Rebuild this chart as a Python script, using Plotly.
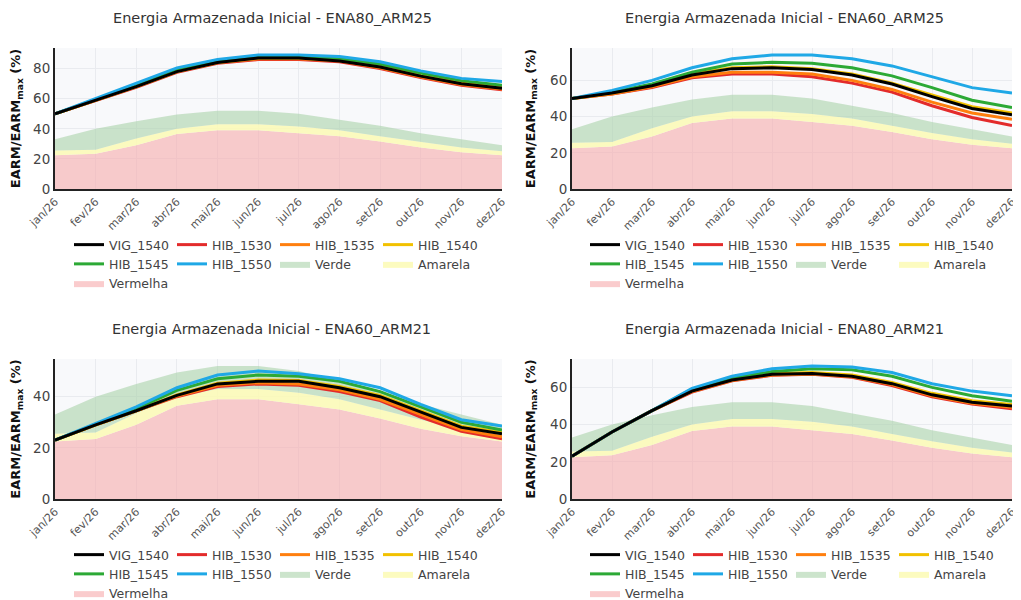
import plotly.graph_objects as go

meses = ["jan/26", "fev/26", "mar/26", "abr/26", "mai/26", "jun/26",
         "jul/26", "ago/26", "set/26", "out/26", "nov/26", "dez/26"]

titulos = ["Energia Armazenada Inicial - ENA80_ARM25",
           "Energia Armazenada Inicial - ENA60_ARM25",
           "Energia Armazenada Inicial - ENA60_ARM21",
           "Energia Armazenada Inicial - ENA80_ARM21"]

# Faixas (iguais nos quatro painéis)
vermelha = [22.5, 23.5, 29, 36.5, 39, 39, 37, 35, 31.5, 27.5, 24.5, 22.5]
amarela = [25.5, 26, 33.5, 40, 43, 43, 41.5, 39, 35, 31, 27.5, 25]
verde = [33, 40, 45, 49.5, 52, 52, 50, 46, 42, 37, 33, 29]

# ENA80_ARM25
p1_vig1540 = [50, 59, 68, 78, 84, 87, 87, 85, 81, 75, 70, 67]
p1_hib1530 = [50, 58.5, 67.5, 77.5, 83.5, 86, 86, 84.5, 80, 74, 69, 66]
p1_hib1535 = [50, 59, 68, 78, 84, 86.5, 86.5, 85, 80.5, 74.5, 69.5, 66.5]
p1_hib1540 = [50, 59, 68, 78, 84, 87, 87, 85.5, 81.5, 75.5, 70.5, 67.5]
p1_hib1545 = [50, 59.5, 69, 79.5, 85.5, 88, 88, 86.5, 83, 77, 72, 69]
p1_hib1550 = [50, 60, 70, 80.5, 86, 89, 89, 88, 84.5, 78.5, 73.5, 71.5]

# ENA60_ARM25
p2_vig1540 = [50, 53, 57, 63, 66.5, 67, 66, 63, 58, 51, 44.5, 41]
p2_hib1530 = [50, 52.5, 56, 61.5, 63.5, 63.5, 62, 58.5, 53.5, 46, 39.5, 35]
p2_hib1535 = [50, 52.5, 56.5, 62, 64.5, 64.5, 63.5, 60, 55, 48, 42, 38.5]
p2_hib1540 = [50, 53, 57.5, 63.5, 67, 67.5, 66.5, 63.5, 58.5, 52, 45.5, 42]
p2_hib1545 = [50, 53.5, 58, 64.5, 69, 70, 69.5, 67, 62.5, 56, 49, 45]
p2_hib1550 = [50, 54.5, 60, 67, 72, 74, 74, 72, 68, 62, 56, 53]

# ENA60_ARM21
p3_vig1540 = [23, 29, 34.5, 40.5, 45, 46, 46, 43.5, 40, 34, 28, 25.5]
p3_hib1530 = [23, 29, 34.5, 40, 44, 45, 44.5, 42, 38.5, 32, 26.5, 23.5]
p3_hib1535 = [23, 29, 34.5, 40.3, 44.5, 45.5, 45, 42.7, 39, 33, 27.2, 24.3]
p3_hib1540 = [23, 29, 34.5, 40.7, 45.3, 46.5, 46.3, 44, 40.5, 34.5, 28.5, 26]
p3_hib1545 = [23, 29.3, 35.3, 42.5, 47, 48.5, 48, 46, 42, 36, 30, 27]
p3_hib1550 = [23, 29.5, 36, 43.5, 48.5, 50, 49, 47, 43.5, 37, 31, 28.5]

# ENA80_ARM21
p4_vig1540 = [23, 36, 47.5, 58, 64, 67, 67.5, 66, 62, 56, 52, 50]
p4_hib1530 = [23, 36, 47.5, 57.5, 63.5, 66.5, 67, 65.5, 61, 55, 51, 48.5]
p4_hib1535 = [23, 36, 47.5, 57.8, 63.7, 66.7, 67.2, 65.7, 61.5, 55.5, 51.5, 49.3]
p4_hib1540 = [23, 36, 47.5, 58.3, 64.3, 67.5, 68, 66.7, 62.7, 56.8, 52.8, 50.8]
p4_hib1545 = [23, 36, 47.5, 59, 65, 68.5, 70, 69.5, 66, 60, 55.5, 52.5]
p4_hib1550 = [23, 36, 47.5, 59.5, 66, 70, 71.5, 71, 68, 62, 58, 55.5]

paineis = [
    [p1_vig1540, p1_hib1530, p1_hib1535, p1_hib1540, p1_hib1545, p1_hib1550],
    [p2_vig1540, p2_hib1530, p2_hib1535, p2_hib1540, p2_hib1545, p2_hib1550],
    [p3_vig1540, p3_hib1530, p3_hib1535, p3_hib1540, p3_hib1545, p3_hib1550],
    [p4_vig1540, p4_hib1530, p4_hib1535, p4_hib1540, p4_hib1545, p4_hib1550],
]
nomes = ["VIG_1540", "HIB_1530", "HIB_1535", "HIB_1540", "HIB_1545", "HIB_1550"]
cores = ["#000000", "#e32b2b", "#ff7f0e", "#f2c100", "#2ca935", "#1fa8e6"]

faixas = [("Vermelha", vermelha, "tozeroy", "rgba(246,170,172,0.6)", 8),
          ("Amarela", amarela, "tonexty", "rgba(252,250,180,0.85)", 7),
          ("Verde", verde, "tonexty", "rgba(170,210,170,0.6)", 6)]

W, H = 1021, 600
FONT = "DejaVu Sans, Verdana, sans-serif"

# plot areas (figure pixels)
boxes = [(47, 494, 40, 181), (564, 1004, 40, 181),
         (47, 494, 351, 491), (564, 1004, 351, 491)]
leg_x0 = [61, 577, 61, 577]
leg_top = [222, 222, 532, 532]
col_step = 103


def legname(panel, rank):
    n = panel * 4 + (rank % 4) + 1
    return "legend" if n == 1 else "legend%d" % n


fig = go.Figure()
layout = dict(width=W, height=H,
              margin=dict(l=0, r=0, t=0, b=0, autoexpand=False),
              paper_bgcolor="white", plot_bgcolor="#f8f9fb",
              font=dict(family=FONT, color="#444"), showlegend=True,
              annotations=[])

for i in range(4):
    sfx = "" if i == 0 else str(i + 1)
    xa, ya = "x" + sfx, "y" + sfx
    x0, x1, y0, y1 = boxes[i]
    series = paineis[i]

    for nome, vals, fill, fc, rank in faixas:
        fig.add_trace(go.Scatter(x=meses, y=vals, name=nome, mode="lines",
                                 line=dict(width=0, color="rgba(0,0,0,0)"), fill=fill,
                                 fillcolor=fc, xaxis=xa, yaxis=ya,
                                 legend=legname(i, rank), legendrank=rank,
                                 hoverinfo="skip"))
    for k in [1, 2, 3, 4, 5, 0]:
        fig.add_trace(go.Scatter(x=meses, y=series[k], name=nomes[k], mode="lines",
                                 line=dict(width=3, color=cores[k]),
                                 xaxis=xa, yaxis=ya, legend=legname(i, k),
                                 legendrank=k))

    layout["xaxis" + sfx] = dict(domain=[x0 / W, x1 / W], anchor=ya, type="category",
                                 tickangle=-45, tickfont=dict(size=11, color="#555"),
                                 showgrid=True, gridcolor="#e9ebef", showline=True,
                                 linecolor="#222", linewidth=2, ticks="", zeroline=False,
                                 automargin=False)
    layout["yaxis" + sfx] = dict(domain=[1 - y1 / H, 1 - y0 / H], anchor=xa,
                                 rangemode="tozero", dtick=20,
                                 tickfont=dict(size=13.5, color="#444"),
                                 showgrid=True, gridcolor="#e9ebef", showline=True,
                                 linecolor="#222", linewidth=2, zeroline=False,
                                 automargin=False,
                                 title=dict(text="<b>EARM/EARM<sub>max</sub> (%)</b>",
                                            font=dict(size=13, color="#111"), standoff=12))
    for c in range(4):
        n = i * 4 + c + 1
        name = "legend" if n == 1 else "legend%d" % n
        layout[name] = dict(orientation="v", x=(leg_x0[i] + c * col_step) / W,
                            xanchor="left", y=1 - leg_top[i] / H, yanchor="top",
                            traceorder="normal", tracegroupgap=0,
                            font=dict(size=12.5, color="#444"),
                            bgcolor="rgba(0,0,0,0)")
    cx = [264, 776, 263, 776][i]
    layout["annotations"].append(dict(text=titulos[i], x=cx / W,
                                      y=1 - (y0 - 30) / H, xref="paper", yref="paper",
                                      showarrow=False, xanchor="center", yanchor="middle",
                                      font=dict(size=14.5, color="#333")))

fig.update_layout(**layout)
fig.write_html("out.html")
